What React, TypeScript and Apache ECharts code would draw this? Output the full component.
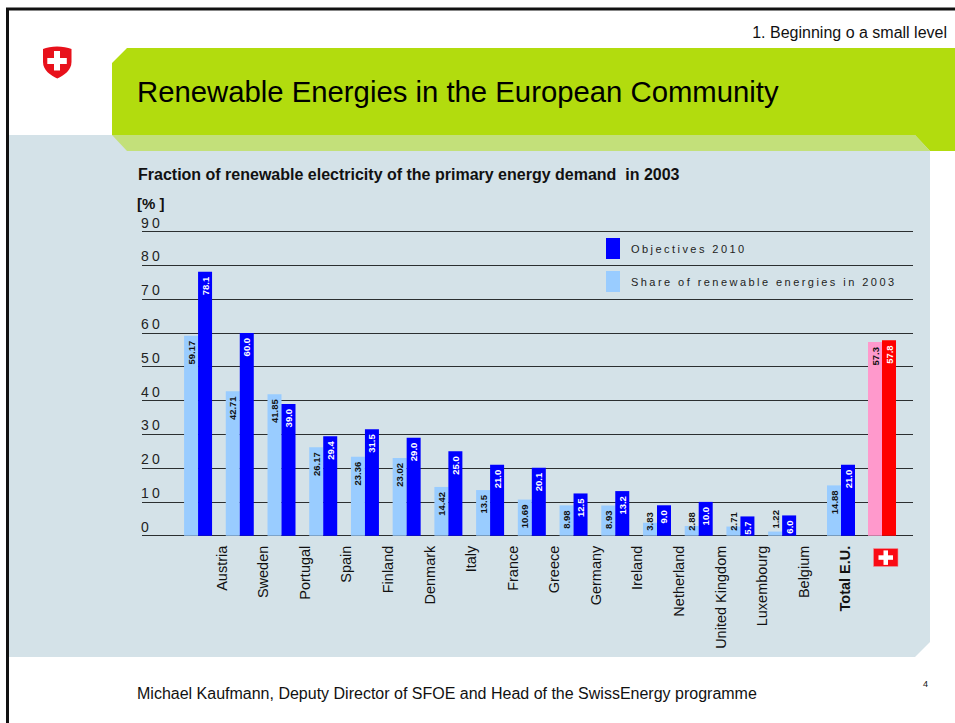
import React, { useEffect, useRef } from "react";
import * as echarts from "echarts";

const countries = ["Austria", "Sweden", "Portugal", "Spain", "Finland", "Denmark", "Italy", "France", "Greece", "Germany", "Ireland", "Netherland", "United Kingdom", "Luxembourg", "Belgium"];
const share2003 = [59.17, 42.71, 41.85, 26.17, 23.36, 23.02, 14.42, 13.5, 10.69, 8.98, 8.93, 3.83, 2.88, 2.71, 1.22];
const objectives2010 = [78.1, 60.0, 39.0, 29.4, 31.5, 29.0, 25.0, 21.0, 20.1, 12.5, 13.2, 9.0, 10.0, 5.7, 6.0];
const summaryCategories = ["Total E.U.", "Switzerland"];
const summaryShare = [14.88, 57.3];
const summaryObjectives = [21.0, 57.8];
const labelCategories = [...countries, "Total E.U."];

const SHARE = "Share of renewable energies in 2003";
const OBJ = "Objectives 2010";
const FONT = "'Liberation Sans', Arial, sans-serif";
const Y0 = 535.7;
const Y90 = 231.5;

function valueLabel(v: number, color: string, decimals: boolean) {
  const text = decimals ? String(v) : v.toFixed(1);
  const base = { show: true, rotate: 90, color, fontFamily: FONT, fontWeight: "bold", fontSize: 9.5, verticalAlign: "middle", formatter: () => text };
  if (v < 2) return { ...base, position: "top", align: "left", distance: 3 };
  if (v < 4) return { ...base, position: "insideBottom", align: "left", distance: 5 };
  return { ...base, position: "insideTop", align: "right", distance: 5 };
}

const shieldPath = "M43 49 C50 45.5 64 45.5 71.5 49 L71.5 62 C71.5 70 64 75.5 57.3 78.5 C50.5 75.5 43 70 43 62 Z";

function vGrid(left: number, width: number) {
  return { left, width, top: Y90, height: Y0 - Y90 };
}
function hiddenY(i: number) {
  return { type: "value", gridIndex: i, min: 0, max: 90, interval: 10, show: false };
}
const pt = (x: number, y: number) => [x, y];
const titleStyle = (fontSize: number, fontWeight: string, color = "#111") => ({ fontFamily: FONT, fontSize, fontWeight, color });

export default function App() {
  const ref = useRef<HTMLDivElement>(null);
  useEffect(() => {
    const el = ref.current!;
    echarts.graphic.registerShape("ch-shield", echarts.graphic.extendPath(shieldPath, {}));
    const chart = echarts.init(el, null, { renderer: "svg", width: 955, height: 723 });
    const light = "#99ccff";
    const dark = "#0000ff";
    const makeBars = (name: string, vals: number[], idx: number, color: string, overrideLast?: string, lblColor = "#111") => ({
      type: "bar",
      name,
      xAxisIndex: idx,
      yAxisIndex: idx,
      barWidth: 14,
      barGap: 0,
      itemStyle: { color },
      z: 3,
      data: vals.map((v, i) => ({
        value: v,
        label: valueLabel(v, lblColor, name === SHARE),
        itemStyle: overrideLast && i === vals.length - 1 ? { color: overrideLast } : { color },
      })),
    });
    chart.setOption({
      animation: false,
      backgroundColor: "#ffffff",
      textStyle: { fontFamily: FONT },
      title: [
        { text: "Renewable Energies in the European Community", left: 137, top: 77, padding: 0, textStyle: titleStyle(29.3, "normal", "#000") },
        { text: "Fraction of renewable electricity of the primary energy demand  in 2003", left: 138, top: 166, padding: 0, textStyle: titleStyle(16, "bold") },
        { text: "[% ]", left: 137, top: 196, padding: 0, textStyle: titleStyle(15, "bold") },
        { text: "1. Beginning o a small level", right: 8, top: 24, padding: 0, textStyle: titleStyle(16, "normal") },
        { text: "Michael Kaufmann, Deputy Director of SFOE and Head of the SwissEnergy programme", left: 137, top: 685, padding: 0, textStyle: titleStyle(16, "normal") },
        { text: "4", left: 923, top: 679, padding: 0, textStyle: titleStyle(9, "normal") },
      ],
      legend: {
        data: [OBJ, SHARE],
        orient: "vertical",
        left: 606,
        top: 238,
        itemWidth: 14,
        itemHeight: 21,
        itemGap: 12,
        padding: 0,
        icon: "rect",
        selectedMode: false,
        textStyle: { fontFamily: FONT, fontSize: 11.01, color: "#222", padding: [0, 0, 0, 6] },
      },
      grid: [vGrid(142, 771), vGrid(201, 665), vGrid(177.2, 625.8), vGrid(820.5, 82)],
      xAxis: [
        { type: "value", gridIndex: 0, min: 0, max: 1, show: false },
        {
          type: "category",
          gridIndex: 1,
          data: labelCategories.map((c) => (c === "Total E.U." ? { value: c, textStyle: { fontWeight: "bold" } } : c)),
          axisLine: { show: false },
          axisTick: { show: false },
          axisLabel: { interval: 0, rotate: 90, fontFamily: FONT, fontSize: 14.5, color: "#111", margin: 10 },
        },
        { type: "category", gridIndex: 2, data: countries, show: false },
        { type: "category", gridIndex: 3, data: summaryCategories, show: false },
      ],
      yAxis: [
        {
          type: "value",
          gridIndex: 0,
          min: 0,
          max: 90,
          interval: 10,
          axisLine: { show: false },
          axisTick: { show: false },
          splitLine: { show: true, lineStyle: { color: "#2b2f30", width: 1 } },
          axisLabel: { inside: true, margin: -1, align: "left", verticalAlign: "bottom", fontFamily: FONT, fontSize: 13.99, color: "#222", padding: [0, 0, 2, 0] },
        },
        hiddenY(1),
        hiddenY(2),
        hiddenY(3),
      ],
      series: [
        makeBars(SHARE, share2003, 2, light),
        makeBars(OBJ, objectives2010, 2, dark, undefined, "#ffffff"),
        makeBars(SHARE, summaryShare, 3, light, "#ff99cc"),
        makeBars(OBJ, summaryObjectives, 3, dark, "#ff0000", "#ffffff"),
      ],
      graphic: [
        { type: "rect", z: -20, silent: true, shape: { x: 7.5, y: 9, width: 960, height: 730 }, style: { fill: "#ffffff", stroke: "#111111", lineWidth: 3 } },
        { type: "polygon", z: -19, silent: true, shape: { points: [pt(9, 135), pt(930, 135), pt(930, 642), pt(915, 657), pt(9, 657)] }, style: { fill: "#d4e2e8" } },
        { type: "polygon", z: -18, silent: true, shape: { points: [pt(127, 48), pt(955, 48), pt(955, 151), pt(930, 151), pt(915, 135), pt(112, 135), pt(112, 63)] }, style: { fill: "#b2dc0e" } },
        { type: "polygon", z: -18, silent: true, shape: { points: [pt(112, 135), pt(915, 135), pt(930, 151), pt(127, 151)] }, style: { fill: "#c3e07a" } },
        { type: "ch-shield", z: 5, silent: true, style: { fill: "#e8111b" } },
        { type: "rect", z: 6, silent: true, shape: { x: 47.3, y: 58, width: 19.5, height: 6 }, style: { fill: "#ffffff" } },
        { type: "rect", z: 6, silent: true, shape: { x: 54, y: 51, width: 6, height: 19.5 }, style: { fill: "#ffffff" } },
        { type: "rect", z: 5, silent: true, shape: { x: 873.5, y: 548.5, width: 24.5, height: 18 }, style: { fill: "#fa0a14", stroke: "#e89aa0", lineWidth: 0.6 } },
        { type: "rect", z: 6, silent: true, shape: { x: 878.5, y: 555.3, width: 14.5, height: 4.5 }, style: { fill: "#ffffff" } },
        { type: "rect", z: 6, silent: true, shape: { x: 883.5, y: 550.4, width: 4.5, height: 14.5 }, style: { fill: "#ffffff" } },
      ],
    });
    return () => chart.dispose();
  }, []);
  return (
    <div style={{ position: "fixed", left: 0, top: 0, width: 955, height: 723, overflow: "hidden", background: "#fff" }}>
      <style>{`
        #root text[style*="13.99px"] { letter-spacing: 3.2px; }
        #root text[style*="11.01px"] { letter-spacing: 2.45px; }
      `}</style>
      <div ref={ref} style={{ width: 955, height: 723 }} />
    </div>
  );
}
